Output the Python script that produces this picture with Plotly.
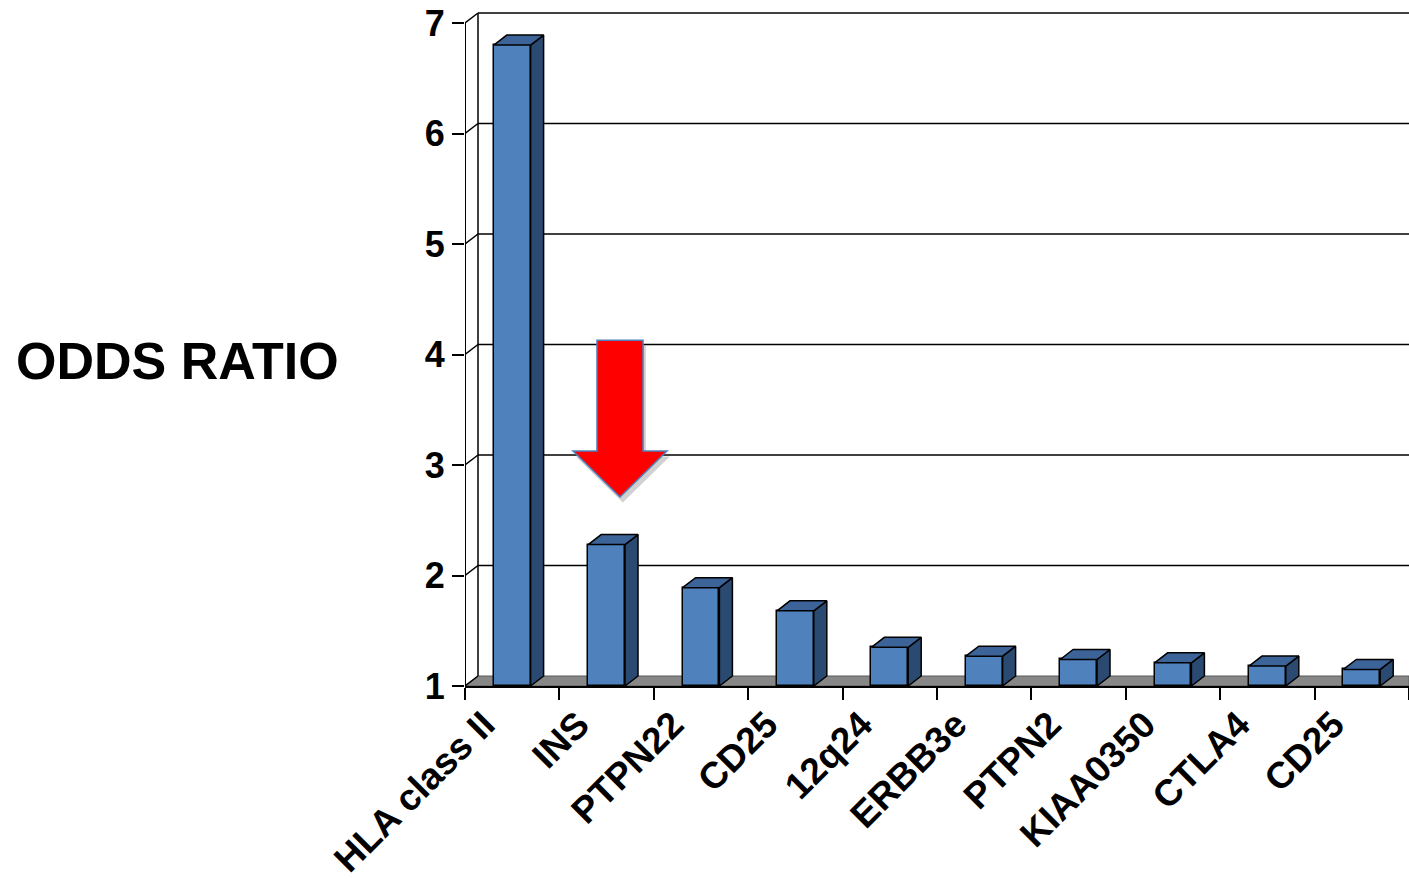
import plotly.graph_objects as go

# ---------------- data ----------------
categories = ["HLA class II", "INS", "PTPN22", "CD25", "12q24",
              "ERBB3e", "PTPN2", "KIAA0350", "CTLA4", "CD25"]
odds_ratio = [6.80, 2.28, 1.89, 1.68, 1.35, 1.27, 1.24, 1.21, 1.18, 1.15]
y_ticks = [1, 2, 3, 4, 5, 6, 7]
y_title = "ODDS RATIO"

# ---------------- geometry ----------------
W, H = 1409, 879
ML, MB = 465, 193
plot_w = W - ML
plot_h = H - MB
n = len(categories)
px_x = plot_w / n          # pixels per category
px_y = 110.5               # pixels per odds-ratio unit
y_lo = y_ticks[0]
y_hi = y_lo + plot_h / px_y
dx = 13 / px_x             # 3-D depth offset (x units)
dy = 10 / px_y             # 3-D depth offset (y units)
bar_w = 0.39

FONT = "Liberation Sans, Arial, sans-serif"
FRONT = "#4f81bd"
SIDE = "#2b4a72"
TOP = "#3c6499"
EDGE = "#000000"

fig = go.Figure()

# front faces of the bars
xc = [i + 0.5 for i in range(n)]
fig.add_trace(go.Bar(
    x=xc, y=[v - y_lo for v in odds_ratio], base=y_lo, width=bar_w,
    marker=dict(color=FRONT, line=dict(color=EDGE, width=1.5)),
    hoverinfo="skip", showlegend=False))

# side and top faces
sx, sy, tx, ty = [], [], [], []
for x, v in zip(xc, odds_ratio):
    xl, xr = x - bar_w / 2, x + bar_w / 2
    sx += [xr, xr + dx, xr + dx, xr, xr, None]
    sy += [y_lo, y_lo + dy, v + dy, v, y_lo, None]
    tx += [xl, xr, xr + dx, xl + dx, xl, None]
    ty += [v, v, v + dy, v + dy, v, None]
fig.add_trace(go.Scatter(x=sx, y=sy, mode="lines", fill="toself",
                         fillcolor=SIDE, line=dict(color=EDGE, width=1.5),
                         hoverinfo="skip", showlegend=False))
fig.add_trace(go.Scatter(x=tx, y=ty, mode="lines", fill="toself",
                         fillcolor=TOP, line=dict(color=EDGE, width=1.5),
                         hoverinfo="skip", showlegend=False))

shapes = []
# floor
shapes.append(dict(type="path", layer="below",
                   path=f"M 0 {y_lo} L {n} {y_lo} L {n} {y_lo+dy} L {dx} {y_lo+dy} Z",
                   xref="x", yref="y", fillcolor="#878787",
                   line=dict(color="#5a5a5a", width=1)))
# back wall gridlines and connectors
for v in y_ticks:
    if v > y_lo:
        shapes.append(dict(type="line", layer="below", xref="x", yref="y",
                           x0=dx, x1=n, y0=v + dy, y1=v + dy,
                           line=dict(color="black", width=1.5)))
    shapes.append(dict(type="line", layer="below", xref="x", yref="y",
                       x0=0, x1=dx, y0=v, y1=v + dy,
                       line=dict(color="black", width=1.5)))
# back wall left edge
shapes.append(dict(type="line", layer="below", xref="x", yref="y",
                   x0=dx, x1=dx, y0=y_lo + dy, y1=y_ticks[-1] + dy,
                   line=dict(color="black", width=1.5)))
# front value axis line
shapes.append(dict(type="line", layer="above", xref="x", yref="y",
                   x0=0, x1=0, y0=y_lo, y1=y_ticks[-1],
                   line=dict(color="black", width=2)))

# red arrow pointing to INS
ax, a_top, a_neck, a_tip = 1.642, 4.13, 3.127, 2.71
hw, sw = 0.498, 0.244
def arrow_path(ox, oy):
    pts = [(ax - sw, a_top), (ax + sw, a_top), (ax + sw, a_neck),
           (ax + hw, a_neck), (ax, a_tip), (ax - hw, a_neck), (ax - sw, a_neck)]
    return "M " + " L ".join(f"{x+ox} {y+oy}" for x, y in pts) + " Z"
shapes.append(dict(type="path", layer="above", xref="x", yref="y",
                   path=arrow_path(0.03, -0.05), fillcolor="rgba(0,0,0,0.18)",
                   line=dict(width=0)))
shapes.append(dict(type="path", layer="above", xref="x", yref="y",
                   path=arrow_path(0, 0), fillcolor="#ff0000",
                   line=dict(color="#4f81bd", width=1.5)))

fig.update_layout(
    width=W, height=H,
    margin=dict(l=ML, r=0, t=0, b=MB, pad=0),
    paper_bgcolor="white", plot_bgcolor="white",
    shapes=shapes, bargap=0,
    font=dict(family=FONT, color="black"),
    annotations=[dict(text=f"<b>{y_title}</b>", xref="paper", yref="paper",
                      x=(14 - ML) / plot_w, y=(plot_h - 361) / plot_h,
                      xanchor="left", yanchor="middle", showarrow=False,
                      font=dict(family=FONT, size=52, color="black"))],
)
fig.update_xaxes(
    range=[0, n], showgrid=False, zeroline=False,
    showline=True, linecolor="black", linewidth=2,
    tickmode="array", tickvals=[x - 0.3 for x in xc],
    ticktext=[f"<b>{c}</b>" for c in categories],
    tickangle=-45, ticks="", tickfont=dict(family=FONT, size=37, color="black"),
    minor=dict(tickvals=list(range(n + 1)), ticks="outside", ticklen=12,
               tickwidth=2, tickcolor="black", showgrid=False),
)
fig.update_yaxes(
    range=[y_lo, y_hi], showgrid=False, zeroline=False, showline=False,
    tickmode="array", tickvals=y_ticks, ticktext=[f"<b>{t}</b>" for t in y_ticks],
    ticks="outside", ticklen=12, tickwidth=2, tickcolor="black",
    tickfont=dict(family=FONT, size=36, color="black"),
)

fig.write_html("out.html")
